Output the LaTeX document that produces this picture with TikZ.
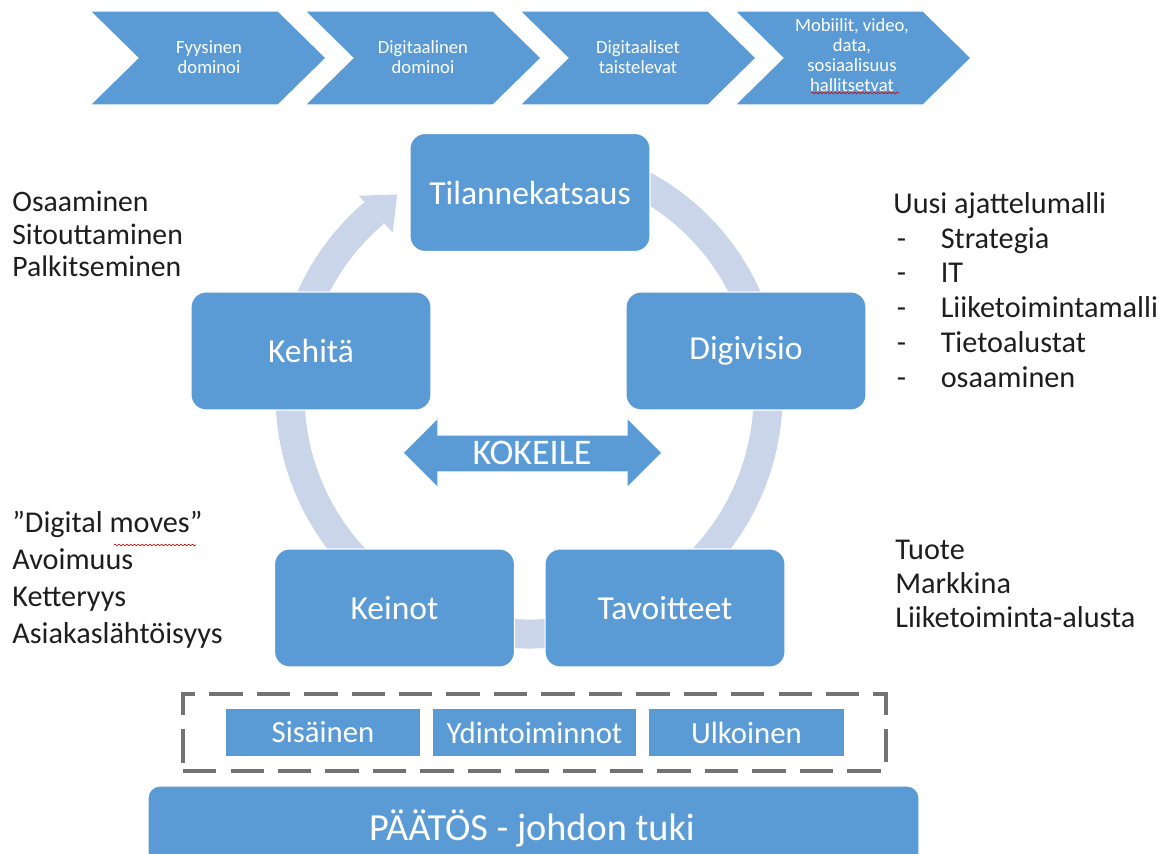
\documentclass[tikz,border=0pt]{standalone}
\usepackage{fontspec}
\setmainfont{Carlito}
\usetikzlibrary{decorations.pathmorphing}
\definecolor{boxblue}{HTML}{5B9BD5}
\definecolor{ringcol}{HTML}{CAD5EA}
\definecolor{dashgray}{HTML}{737373}
\definecolor{txt}{HTML}{1E1E1E}
\newcommand\dashitem[1]{\hspace*{2pt}\makebox[25pt][l]{-}#1}
\begin{document}
\begin{tikzpicture}[x=0.02cm,y=0.02cm,
  bluebox/.style={draw=white, line width=0.6pt, fill=boxblue, rounded corners=0.3cm,
    text=white, font=\fontsize{19.1}{22}\selectfont,
    minimum width=4.8cm, minimum height=2.36cm, inner sep=0pt},
  subbox/.style={draw=white, line width=0.6pt, fill=boxblue, text=white,
    font=\fontsize{17.5}{20}\selectfont, minimum height=0.98cm, inner sep=0pt},
  chevshape/.style={fill=boxblue, draw=white, line width=0.6pt},
  chevtext/.style={text=white, align=center, font=\fontsize{10.6}{11.3}\selectfont, inner sep=0pt},
  side/.style={text=txt, align=left, anchor=west, inner sep=0pt},
  ring/.style={draw=ringcol, line width=0.58cm},
  squig/.style={draw=red!80!black, line width=0.35pt, decorate,
    decoration={snake, amplitude=0.45pt, segment length=2.2pt}}
]
\useasboundingbox (0,0) rectangle (1174,854);
\fill[white] (0,0) rectangle (1174,854);

% chevrons
\foreach \L in {90,305,520,735}{
  \path[chevshape] (\L,843) -- ({\L+188},843) -- ({\L+236},796) -- ({\L+188},749) -- (\L,749) -- ({\L+48},796) -- cycle;
}
\node[chevtext] (c1) at (209,797) {Fyysinen\\dominoi};
\node[chevtext] (c2) at (423,797) {Digitaalinen\\dominoi};
\node[chevtext] (c3) at (638,797) {Digitaaliset\\taistelevat};
\node[chevtext] (c4) at (852,799) {Mobiilit, video,\\data,\\sosiaalisuus\\hallitsetvat};
\draw[squig] (811,761) -- (899,761);

% ring
\draw[ring] (529,459) ++(110:239) arc[start angle=110, end angle=-229.7, radius=239];
\fill[ringcol, shift={(529,459)}] (130.5:262) -- (123.3:240) -- (130:212) -- cycle;

% cycle boxes
\node[bluebox] (tila) at (530,661.5) {Tilannekatsaus};
\node[bluebox] (kehi) at (311,503) {Kehitä};
\node[bluebox] (digi) at (746,503) {Digivisio};
\node[bluebox] (kein) at (394.5,246) {Keinot};
\node[bluebox] (tavo) at (665,246) {Tavoitteet};

% KOKEILE double arrow
\fill[boxblue, draw=white, line width=0.6pt] (403,401) -- (438,436) -- (438,419) -- (627,419) -- (627,436) -- (662,401)
  -- (627,366) -- (627,382) -- (438,382) -- (438,366) -- cycle;
\node[text=white, font=\fontsize{20.5}{24}\selectfont, inner sep=0pt] (koke) at (532,401) {KOKEILE};

% dashed group
\node[draw=dashgray, line width=0.08cm, dash pattern=on 19pt off 8pt,
  minimum width=14.06cm, minimum height=1.54cm, inner sep=0pt] (grp) at (534.5,121.5) {};
\node[subbox, minimum width=3.92cm] (sisa) at (323,121.5) {Sisäinen};
\node[subbox, minimum width=4.1cm] (ydin) at (534.5,121.5) {Ydintoiminnot};
\node[subbox, minimum width=3.94cm] (ulko) at (746.5,121.5) {Ulkoinen};

% base
\path[fill=boxblue, draw=white, line width=0.6pt, rounded corners=0.24cm] (148,-40) rectangle (919,68);
\node[text=white, font=\fontsize{21.8}{25}\selectfont, inner sep=0pt] (paat) at (532,26) {PÄÄTÖS - johdon tuki};

% side texts
\node[side, font=\fontsize{16.9}{18.4}\selectfont] (ltop) at (12,620) {Osaaminen\\Sitouttaminen\\Palkitseminen};
\node[side, font=\fontsize{17.2}{19.8}\selectfont] (rtop) at (893,564) {Uusi ajattelumalli\\\dashitem{Strategia}\\\dashitem{IT}\\\dashitem{Liiketoimintamalli}\\\dashitem{Tietoalustat}\\\dashitem{osaaminen}};
\node[side, font=\fontsize{17.2}{19.3}\selectfont] (rbot) at (895,270) {Tuote\\Markkina\\Liiketoiminta-alusta};
\node[side, font=\fontsize{17.2}{21.1}\selectfont] (lbot) at (12,274) {”Digital moves”\\Avoimuus\\Ketteryys\\Asiakaslähtöisyys};
\draw[squig] (114,309) -- (196,309);
\end{tikzpicture}
\end{document}
